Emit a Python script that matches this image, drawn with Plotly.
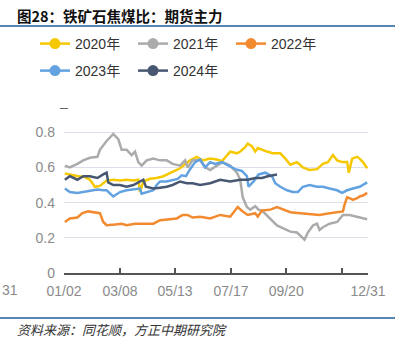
import plotly.graph_objects as go

# ---- data: x = days since 01/02, y = ratio ----
tick_days = [0, 67, 133, 200, 266, 333, 364]
tick_text = ["01/02", "03/08", "05/13", "07/17", "09/20", "", "12/31"]

d2020 = [1, 10, 17, 25, 31, 37, 43, 51, 59, 67, 75, 83, 89, 91, 95, 103, 111, 119, 123, 130,
         139, 145, 151, 159, 166, 175, 183, 189, 195, 199, 207, 211, 217, 220, 225, 229, 232, 237, 243, 250,
         259, 265, 271, 279, 286, 294, 303, 310, 316, 322, 327, 333, 339, 341, 345, 351, 354, 358, 363]
v2020 = [0.565, 0.555, 0.55, 0.545, 0.53, 0.49, 0.495, 0.525, 0.53, 0.525, 0.53, 0.525, 0.53, 0.46, 0.52, 0.535, 0.54, 0.55, 0.56, 0.575,
         0.595, 0.615, 0.64, 0.66, 0.64, 0.65, 0.645, 0.635, 0.665, 0.69, 0.68, 0.69, 0.715, 0.735, 0.72, 0.69, 0.71, 0.70, 0.69, 0.68,
         0.68, 0.65, 0.615, 0.63, 0.60, 0.585, 0.59, 0.62, 0.63, 0.67, 0.64, 0.63, 0.63, 0.57, 0.65, 0.66, 0.65, 0.63, 0.595]

d2021 = [1, 7, 16, 23, 31, 40, 43, 51, 59, 65, 69, 75, 81, 85, 89, 93, 99, 107, 115, 123,
         130, 139, 145, 148, 154, 163, 169, 175, 183, 190, 199, 207, 211, 214, 219, 223, 229, 233, 238, 247,
         255, 262, 271, 279, 285, 288, 292, 298, 303, 306, 310, 318, 327, 334, 342, 351, 363]
v2021 = [0.61, 0.60, 0.62, 0.64, 0.655, 0.66, 0.70, 0.75, 0.79, 0.76, 0.70, 0.70, 0.67, 0.69, 0.63, 0.61, 0.64, 0.65, 0.64, 0.64,
         0.62, 0.61, 0.64, 0.60, 0.64, 0.64, 0.60, 0.585, 0.61, 0.63, 0.61, 0.57, 0.53, 0.43, 0.375, 0.36, 0.38, 0.36, 0.35, 0.31,
         0.27, 0.255, 0.235, 0.23, 0.205, 0.19, 0.23, 0.27, 0.28, 0.245, 0.26, 0.28, 0.29, 0.33, 0.33, 0.32, 0.305]

d2022 = [1, 7, 16, 22, 29, 40, 43, 47, 51, 61, 69, 75, 85, 95, 107, 115, 123, 135, 142, 148,
         154, 163, 175, 187, 199, 208, 214, 220, 229, 232, 237, 247, 255, 262, 271, 283, 294, 306, 318, 328,
         334, 336, 339, 342, 346, 351, 354, 358, 363]
v2022 = [0.29, 0.31, 0.315, 0.34, 0.35, 0.345, 0.34, 0.29, 0.272, 0.275, 0.28, 0.272, 0.28, 0.28, 0.28, 0.30, 0.305, 0.31, 0.33, 0.33,
         0.315, 0.32, 0.31, 0.33, 0.32, 0.375, 0.35, 0.33, 0.34, 0.32, 0.355, 0.36, 0.375, 0.36, 0.345, 0.34, 0.335, 0.33, 0.34, 0.345,
         0.35, 0.39, 0.43, 0.425, 0.415, 0.425, 0.435, 0.44, 0.455]

d2023 = [1, 7, 16, 23, 31, 40, 47, 51, 59, 67, 75, 83, 91, 93, 99, 107, 111, 115, 123, 130,
         136, 141, 146, 151, 157, 163, 169, 175, 181, 189, 198, 205, 213, 219, 221, 227, 233, 241, 249, 253,
         259, 267, 274, 280, 286, 294, 303, 310, 318, 327, 333, 339, 346, 354, 363]
v2023 = [0.48, 0.46, 0.455, 0.46, 0.47, 0.475, 0.47, 0.47, 0.435, 0.46, 0.47, 0.475, 0.48, 0.45, 0.46, 0.47, 0.50, 0.52, 0.52, 0.53,
         0.535, 0.555, 0.55, 0.59, 0.63, 0.645, 0.60, 0.63, 0.62, 0.63, 0.61, 0.59, 0.58, 0.55, 0.49, 0.52, 0.56, 0.57, 0.55, 0.51,
         0.49, 0.47, 0.46, 0.46, 0.49, 0.50, 0.49, 0.49, 0.48, 0.47, 0.455, 0.47, 0.48, 0.49, 0.515]

d2024 = [1, 7, 16, 23, 31, 40, 47, 51, 53, 59, 67, 75, 83, 91, 95, 98, 107, 115, 123, 130,
         139, 147, 154, 163, 175, 187, 199, 211, 220, 229, 237, 244, 255]
v2024 = [0.53, 0.55, 0.53, 0.55, 0.55, 0.54, 0.56, 0.57, 0.515, 0.50, 0.50, 0.49, 0.50, 0.52, 0.53, 0.49, 0.48, 0.485, 0.49, 0.50,
         0.52, 0.51, 0.51, 0.50, 0.51, 0.53, 0.52, 0.53, 0.53, 0.54, 0.54, 0.55, 0.56]

names = ["2020年", "2021年", "2022年", "2023年", "2024年"]
colors = ["#f5c800", "#ababab", "#f28a30", "#62a2e0", "#475772"]
xs = [d2020, d2021, d2022, d2023, d2024]
ys = [v2020, v2021, v2022, v2023, v2024]
legend_ids = ["legend", "legend", "legend", "legend2", "legend2"]

FONT = "Liberation Sans, Arial, Noto Sans CJK SC, sans-serif"
CJK = "Noto Sans CJK SC, sans-serif"

fig = go.Figure()
for x, y, c, n in zip(xs, ys, colors, names):
    fig.add_trace(go.Scatter(x=x, y=y, mode="lines", line=dict(color=c, width=2.5),
                             showlegend=False, hoverinfo="skip"))
for c, n, lg in zip(colors, names, legend_ids):
    fig.add_trace(go.Scatter(x=[None], y=[None], mode="lines+markers", name=n, legend=lg,
                             line=dict(color=c, width=2.5), marker=dict(color=c, size=11)))

W, H = 404, 351
L, R, T, B = 64, 36, 97, 78
pw, ph = W - L - R, H - T - B

def px(xp):
    return (xp - L) / pw

def py(yp):
    return (H - B - yp) / ph

legend_common = dict(orientation="h", xanchor="left", yanchor="middle",
                     font=dict(family=FONT, size=14, color="#333333"),
                     bgcolor="rgba(0,0,0,0)", entrywidth=53, entrywidthmode="pixels",
                     itemclick=False, itemdoubleclick=False, tracegroupgap=0)

fig.update_layout(
    width=W, height=H,
    margin=dict(l=L, r=R, t=T, b=B),
    paper_bgcolor="white", plot_bgcolor="white",
    legend=dict(x=px(35), y=py(44), **legend_common),
    legend2=dict(x=px(35), y=py(71), **legend_common),
    xaxis=dict(range=[0, 364], tickmode="array", tickvals=tick_days, ticktext=tick_text,
               showgrid=False, zeroline=False, showline=True, linecolor="#555555", linewidth=1.5,
               ticks="inside", ticklen=5, tickcolor="#555555", tickwidth=1.5,
               tickfont=dict(family=FONT, size=14, color="#8a8a8a"), ticklabelstandoff=4),
    yaxis=dict(range=[0, 1.0], tickmode="array", tickvals=[0, 0.2, 0.4, 0.6, 0.8],
               ticktext=["0", "0.2", "0.4", "0.6", "0.8"],
               showgrid=True, gridcolor="#dde0ea", gridwidth=1, zeroline=False, showline=False,
               ticks="", tickfont=dict(family=FONT, size=14, color="#8a8a8a"), ticklabelstandoff=8),
    font=dict(family=FONT),
)

# title, source, decorations
fig.add_annotation(text="<b>图28：铁矿石焦煤比：期货主力</b>", xref="paper", yref="paper",
                   x=px(15), y=py(15), xanchor="left", yanchor="middle", showarrow=False,
                   font=dict(family=CJK, size=14.5, color="#111111"))
fig.add_annotation(text="<i>资料来源：同花顺，方正中期研究院</i>", xref="paper", yref="paper",
                   x=px(15), y=py(329), xanchor="left", yanchor="middle", showarrow=False,
                   font=dict(family=CJK, size=13, color="#333333"))
fig.add_annotation(text="–", xref="paper", yref="paper", x=px(64), y=py(107),
                   xanchor="center", yanchor="middle", showarrow=False,
                   font=dict(family=FONT, size=14, color="#666666"))
fig.add_annotation(text="31", xref="paper", yref="paper", x=px(0), y=py(290),
                   xanchor="left", yanchor="middle", showarrow=False,
                   font=dict(family=FONT, size=14, color="#8a8a8a"))
for yy in (26, 318):
    fig.add_shape(type="line", xref="paper", yref="paper", x0=px(0), x1=px(395), y0=py(yy), y1=py(yy),
                  line=dict(color="#1f5c99", width=1.5))

fig.write_html("out.html")
